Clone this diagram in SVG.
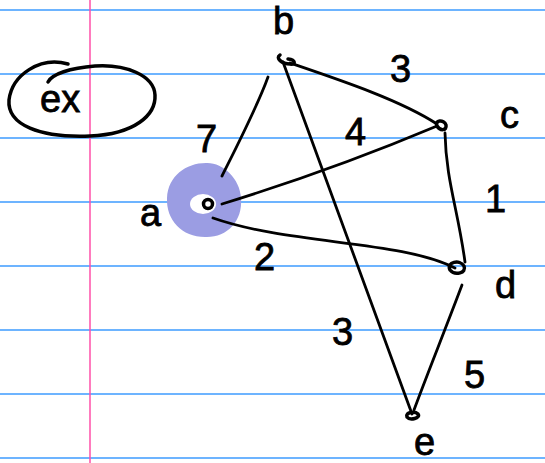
<svg xmlns="http://www.w3.org/2000/svg" width="545" height="463" viewBox="0 0 545 463">
<style>
.rule{stroke:#3d9bff;stroke-width:1.5}
.edge{fill:none;stroke:#000;stroke-width:2.8;stroke-linecap:round}
.ink{fill:none;stroke:#000;stroke-width:3.5;stroke-linecap:round;stroke-linejoin:round}
.lbl{font-family:"Liberation Sans",sans-serif;font-size:38px;fill:#000;stroke:#000;stroke-width:0.8}
</style>
<rect width="545" height="463" fill="#fff"/>
<g id="paper">
<line class="rule" x1="0" y1="10" x2="545" y2="10"/>
<line class="rule" x1="0" y1="74" x2="545" y2="74"/>
<line class="rule" x1="0" y1="138" x2="545" y2="138"/>
<line class="rule" x1="0" y1="202" x2="545" y2="202"/>
<line class="rule" x1="0" y1="266" x2="545" y2="266"/>
<line class="rule" x1="0" y1="330" x2="545" y2="330"/>
<line class="rule" x1="0" y1="394" x2="545" y2="394"/>
<line class="rule" x1="0" y1="458" x2="545" y2="458"/>
<line x1="90" y1="0" x2="90" y2="463" stroke="#ff4fa8" stroke-width="1.5"/>
</g>
<g id="title">
<path class="ink" d="M68,64 C40,56 12,75 9,100 C7,125 40,138 90,136 C135,134 156,115 155,95 C154,75 125,64 95,66 C70,68 52,74 48,82" stroke-width="4"/>
<text class="lbl" x="40" y="112" font-size="40">ex</text>
</g>
<g id="highlight">
<path d="M206,163 C222,162 240,178 241,198 C243,222 226,238 205,237 C182,237 166,220 167,198 C168,176 186,163 206,163 Z" fill="#9b9de3"/>
<ellipse cx="203" cy="204" rx="13" ry="10" fill="#fff"/>
</g>
<g id="connectors">
<path class="edge" d="M222,176 C240,140 258,105 268,77"/>
<path class="edge" d="M222,204 C300,180 380,150 437,126"/>
<path class="edge" d="M213,218 C290,245 400,240 455,268"/>
<path class="edge" d="M290,63 C340,80 400,100 437,124"/>
<path class="edge" d="M283,62 L412,414" stroke-width="3.8"/>
<path class="edge" d="M445,133 C446,180 458,210 465,262"/>
<path class="edge" d="M462,285 C445,330 425,380 414,410"/>
</g>
<g id="node-b">
<path class="ink" d="M280,55 C275,58 282,64 290,64 C296,65 296,60 288,59" stroke-width="5"/>
<text class="lbl" x="273" y="34" font-size="32">b</text>
</g>
<g id="node-c">
<path class="ink" d="M437,126 C434,120 444,119 446,125 C447,131 440,131 437,126" stroke-width="4"/>
<text class="lbl" x="500" y="128" font-size="40">c</text>
</g>
<g id="node-a">
<circle cx="208" cy="204" r="4.5" fill="none" stroke="#000" stroke-width="3.5"/>
<text class="lbl" x="140" y="226" font-size="36">a</text>
</g>
<g id="node-d">
<path class="ink" d="M450,270 C446,262 460,259 464,266 C467,273 455,276 450,270" stroke-width="4"/>
<text class="lbl" x="495" y="298" font-size="40">d</text>
</g>
<g id="node-e">
<path class="ink" d="M407,417 C405,412 415,411 418,414 C421,418 410,421 407,417" stroke-width="5"/>
<text class="lbl" x="414" y="455" font-size="30">e</text>
</g>
<g id="weights">
<text class="lbl" x="196" y="152">7</text>
<text class="lbl" x="390" y="82">3</text>
<text class="lbl" x="345" y="145" font-size="30">4</text>
<text class="lbl" x="485" y="212">1</text>
<text class="lbl" x="254" y="270">2</text>
<text class="lbl" x="332" y="345">3</text>
<text class="lbl" x="464" y="388">5</text>
</g>
</svg>
